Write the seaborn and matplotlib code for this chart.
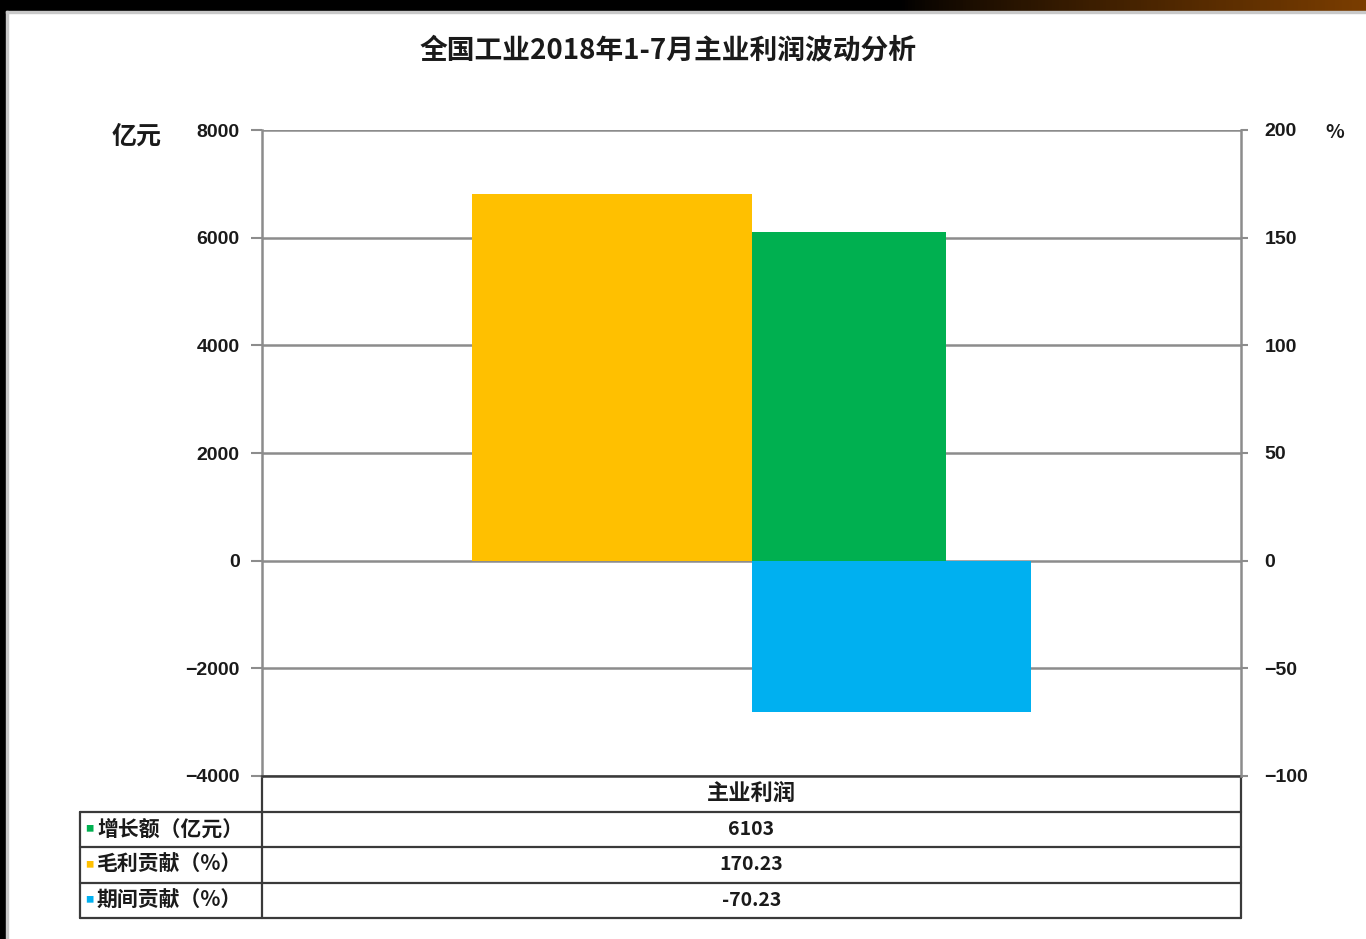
import numpy as np
import pandas as pd
import matplotlib
matplotlib.use("Agg")
import matplotlib.pyplot as plt
from matplotlib.patches import Rectangle
import seaborn as sns

# ── DATA ──────────────────────────────────────────────────────
category     = ["主业利润"]
growth_label = "增长额（亿元）"
growth_value = [6103]
pct_labels   = ["毛利贡献（%）", "期间贡献（%）"]
pct_values   = [170.23, -70.23]
table_text   = ["6103", "170.23", "-70.23"]
left_ticks   = [-4000, -2000, 0, 2000, 4000, 6000, 8000]
right_ticks  = [-100, -50, 0, 50, 100, 150, 200]

GREEN, YELLOW, BLUE = "#00B050", "#FFC000", "#00B0F0"
GRID = "#8c8c8c"
LINE = "#3a3a3a"
TXT = "#1a1a1a"

sns.set_theme(style="white")
plt.rcParams["font.family"] = ["Noto Sans CJK SC", "DejaVu Sans"]

fig = plt.figure(figsize=(13.66, 9.39), dpi=100)
fig.patch.set_facecolor("white")

# ── frame decoration (top band + left edge) ──────────────────
band = fig.add_axes([0, 1 - 11 / 939, 1, 11 / 939])
grad = np.linspace(0, 1, 400)
r = np.clip((grad - 0.66) / 0.34, 0, 1) ** 0.8
img = np.zeros((1, 400, 3))
img[0, :, 0] = r * 0.48
img[0, :, 1] = r * 0.24
band.imshow(img, aspect="auto", extent=[0, 1, 0, 1])
band.axis("off")
fig.patches.append(Rectangle((0, 0), 6 / 1366, 1, color="black",
                             transform=fig.transFigure, figure=fig))
fig.patches.append(Rectangle((6 / 1366, 0), 2 / 1366, 1 - 11 / 939, color="#c8c8c8",
                             transform=fig.transFigure, figure=fig))
fig.patches.append(Rectangle((6 / 1366, 1 - 13 / 939), 1, 2 / 939, color="#c8c8c8",
                             transform=fig.transFigure, figure=fig))

# ── main axes ────────────────────────────────────────────────
AX_W, AX_H = 979, 646
ax = fig.add_axes([262 / 1366, 1 - 776 / 939, AX_W / 1366, AX_H / 939])
ax.bar(0, growth_value[0], width=0.199, align="edge", color=GREEN,
       linewidth=0, zorder=2)
ax.set_ylim(-4000, 8000)
ax.set_yticks(left_ticks)
ax.set_xlim(-0.5, 0.5)
ax.set_xticks([])
ax.grid(axis="y", color=GRID, lw=1.8, zorder=0)
ax.set_axisbelow(True)

ax2 = ax.twinx()
df_pct = pd.DataFrame({"cat": category * 2, "series": pct_labels, "val": pct_values})
sns.barplot(data=df_pct, x="cat", y="val", hue="series", hue_order=pct_labels,
            palette=[YELLOW, BLUE], width=0.57, saturation=1, ax=ax2,
            legend=False, linewidth=0)
ax2.set_ylim(-100, 200)
ax2.set_yticks(right_ticks)
ax2.set_xlim(-0.5, 0.5)
ax2.set_xticks([])
ax2.set_xlabel("")
ax2.set_ylabel("")
ax2.grid(False)

for a in (ax, ax2):
    for s in a.spines.values():
        s.set_visible(False)
ax.spines["left"].set_visible(True)
ax.spines["bottom"].set_visible(True)
ax2.spines["right"].set_visible(True)
ax.spines["left"].set_color(GRID)
ax.spines["left"].set_linewidth(1.8)
ax.spines["bottom"].set_color(LINE)
ax.spines["bottom"].set_linewidth(1.8)
ax2.spines["right"].set_color(GRID)
ax2.spines["right"].set_linewidth(1.8)
ax.tick_params(axis="y", direction="out", length=8, width=1.5, color=GRID,
               left=True, pad=8, labelsize=14, labelcolor=TXT)
ax2.tick_params(axis="y", direction="out", length=5, width=1.5, color=GRID,
                right=True, pad=12, labelsize=14, labelcolor=TXT)
for lab in ax.get_yticklabels() + ax2.get_yticklabels():
    lab.set_fontweight("bold")
    lab.set_family(["Liberation Sans", "DejaVu Sans"])

# ── data table under the axes (drawn in axes coordinates) ────
row_h = 35.5 / AX_H
x_lab = -182 / AX_W
n_rows = len(table_text)
tkw = dict(transform=ax.transAxes, clip_on=False, color=LINE, lw=1.6)
for i in range(1, n_rows + 2):
    ax.plot([x_lab, 1], [-i * row_h] * 2, **tkw)
ax.plot([0, 0], [0, -(n_rows + 1) * row_h], **tkw)
ax.plot([1, 1], [0, -(n_rows + 1) * row_h], **tkw)
ax.plot([x_lab, x_lab], [-row_h, -(n_rows + 1) * row_h], **tkw)

ax.text(0.5, -0.5 * row_h, category[0], transform=ax.transAxes, ha="center",
        va="center", fontsize=16, fontweight="bold", color=TXT)
row_labels = [growth_label] + pct_labels
colors = [GREEN, YELLOW, BLUE]
for i, (lab, val, c) in enumerate(zip(row_labels, table_text, colors)):
    yc = -(i + 1.5) * row_h
    ax.text(0.5, yc, val, transform=ax.transAxes, ha="center", va="center",
            fontsize=14, fontweight="bold", color=TXT)
    ax.text((97 - 262) / AX_W, yc, lab, transform=ax.transAxes, ha="left",
            va="center", fontsize=15, fontweight="bold", color=TXT)
    ax.text((85 - 262) / AX_W, yc, "■", transform=ax.transAxes, ha="left",
            va="center", fontsize=6, color=c)

# ── titles and unit labels ───────────────────────────────────
fig.text(668 / 1366, 1 - 50 / 939, "全国工业2018年1-7月主业利润波动分析",
         ha="center", va="center", fontsize=20, fontweight="bold", color=TXT)
fig.text(137 / 1366, 1 - 137 / 939, "亿元", ha="center", va="center",
         fontsize=18, fontweight="bold", color=TXT)
fig.text(1335 / 1366, 1 - 133 / 939, "%", ha="center", va="center",
         fontsize=14, fontweight="bold", color=TXT)

plt.savefig("out.png", dpi=100)
